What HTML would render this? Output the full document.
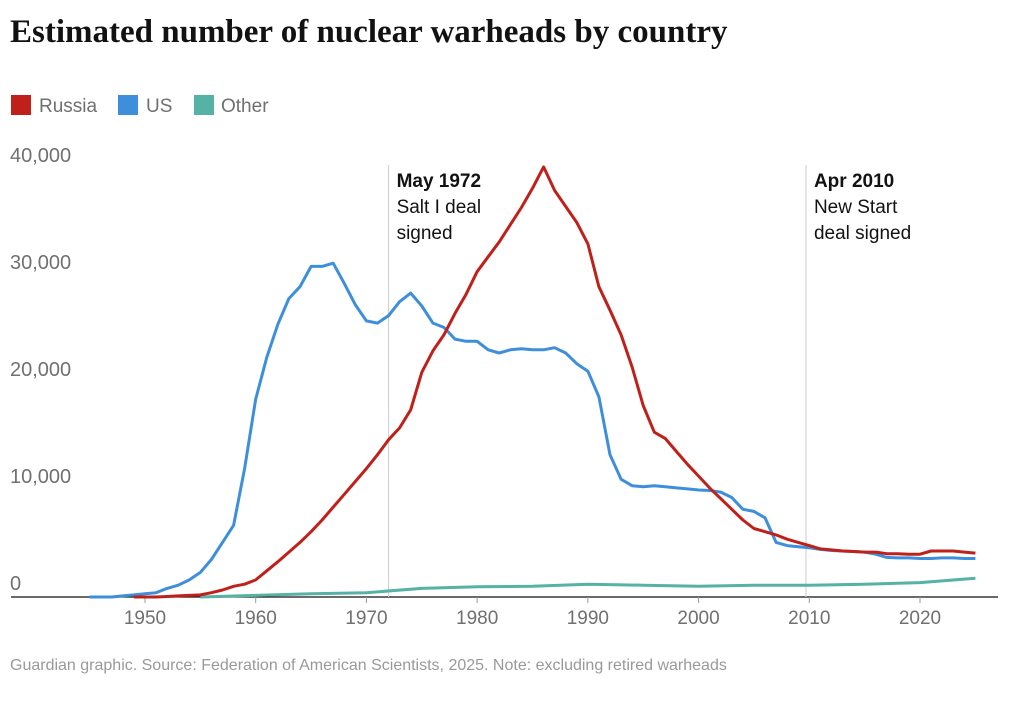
<!DOCTYPE html>
<html><head><meta charset="utf-8"><style>
body{margin:0;background:#fff;width:1024px;height:696px;overflow:hidden;font-family:"Liberation Sans",sans-serif}
</style></head><body>
<svg width="1024" height="696">
<text x="10" y="42" font-family="Liberation Serif,serif" font-weight="bold" font-size="33" fill="#121212">Estimated number of nuclear warheads by country</text>
<g font-size="19" fill="#707070">
<rect x="11" y="95" width="20" height="20" fill="#c0201a"/>
<text x="39" y="112">Russia</text>
<rect x="118" y="95" width="20" height="20" fill="#3e8fdb"/>
<text x="146" y="112">US</text>
<rect x="194" y="95" width="20" height="20" fill="#55b2a4"/>
<text x="221" y="112">Other</text>
</g>
<g id="yaxis"></g>
<g id="xaxis"></g>
<g id="ann"></g>
<g id="series"></g>
<text x="10" y="670" font-size="16" fill="#999">Guardian graphic. Source: Federation of American Scientists, 2025. Note: excluding retired warheads</text>
</svg>
<script>
const yTicks=[0,10000,20000,30000,40000];
const yTickLabels=["0","10,000","20,000","30,000","40,000"];
const xTicks=[1950,1960,1970,1980,1990,2000,2010,2020];
const usYears=[];for(let y=1945;y<=2025;y++)usYears.push(y);
const usValues=[0,0,0,100,200,300,400,800,1100,1600,2300,3500,5100,6700,12000,18500,22400,25500,27900,29000,30900,30900,31200,29300,27300,25800,25600,26300,27600,28400,27200,25600,25200,24100,23900,23900,23100,22800,23100,23200,23100,23100,23300,22800,21800,21100,18700,13300,11000,10400,10300,10400,10300,10200,10100,10000,9950,9800,9300,8200,8000,7400,5100,4800,4700,4600,4450,4350,4300,4250,4200,4000,3700,3650,3650,3600,3600,3650,3650,3600,3600];
const ruYears=[];for(let y=1949;y<=2025;y++)ruYears.push(y);
const ruValues=[0,0,0,50,100,150,200,400,650,1000,1200,1600,2450,3300,4200,5100,6100,7200,8400,9600,10800,12000,13300,14700,15800,17500,21000,23000,24500,26500,28300,30400,31800,33200,34800,36400,38200,40200,38000,36500,35000,33000,29000,26800,24500,21500,17900,15400,14800,13600,12400,11300,10200,9200,8200,7200,6400,6100,5800,5400,5100,4800,4500,4400,4300,4250,4200,4200,4050,4050,4000,4000,4300,4300,4300,4200,4100];
const otherYears=[1955,1960,1965,1970,1975,1980,1985,1990,1995,2000,2005,2010,2015,2020,2025];
const otherValues=[0,150,300,400,800,950,1000,1200,1100,1000,1100,1100,1200,1350,1750];
const annYears=[1972.0,2009.7];
const annBold=["May 1972","Apr 2010"];
const annText=[["Salt I deal","signed"],["New Start","deal signed"]];

const NS="http://www.w3.org/2000/svg";
const xS=y=>145+(y-1950)*(775/70);
const yS=v=>597-v*0.0107;
function mk(p,t,a){const e=document.createElementNS(NS,t);for(const k in a)e.setAttribute(k,a[k]);p.appendChild(e);return e;}
const ya=document.getElementById('yaxis');
yTicks.forEach((v,i)=>{const t=mk(ya,'text',{x:10,y:yS(v)-7,'font-size':20,fill:'#707070'});t.textContent=yTickLabels[i];

});
const xa=document.getElementById('xaxis');
const base=mk(xa,'line',{x1:11,x2:998,y1:597,y2:597,stroke:'#121212','stroke-width':1.2});


xTicks.forEach(v=>{mk(xa,'line',{x1:xS(v),x2:xS(v),y1:597,y2:603,stroke:'#999'});
const t=mk(xa,'text',{x:xS(v),y:624,'font-size':19,fill:'#707070','text-anchor':'middle'});t.textContent=v;

});
const an=document.getElementById('ann');
annYears.forEach((y,i)=>{const x=xS(y);
const l=mk(an,'line',{x1:x,x2:x,y1:165,y2:597,stroke:'#ccc','stroke-width':1});


const b=mk(an,'text',{x:x+8,y:187,'font-size':19,'font-weight':'bold',fill:'#121212'});b.textContent=annBold[i];


annText[i].forEach((s,j)=>{const t=mk(an,'text',{x:x+8,y:213+j*26,'font-size':19,fill:'#121212'});t.textContent=s;

});});
const se=document.getElementById('series');
function line(xs,vs,c,name){const d=xs.map((y,i)=>(i?'L':'M')+xS(y).toFixed(1)+','+yS(vs[i]).toFixed(1)).join('');
const p=mk(se,'path',{d:d,fill:'none',stroke:c,'stroke-width':3,'stroke-linejoin':'round'});

}
line(otherYears,otherValues,'#55b2a4','other-line');
line(usYears,usValues,'#3e8fdb','us-line');
line(ruYears,ruValues,'#c0201a','russia-line');
</script>
</body></html>
